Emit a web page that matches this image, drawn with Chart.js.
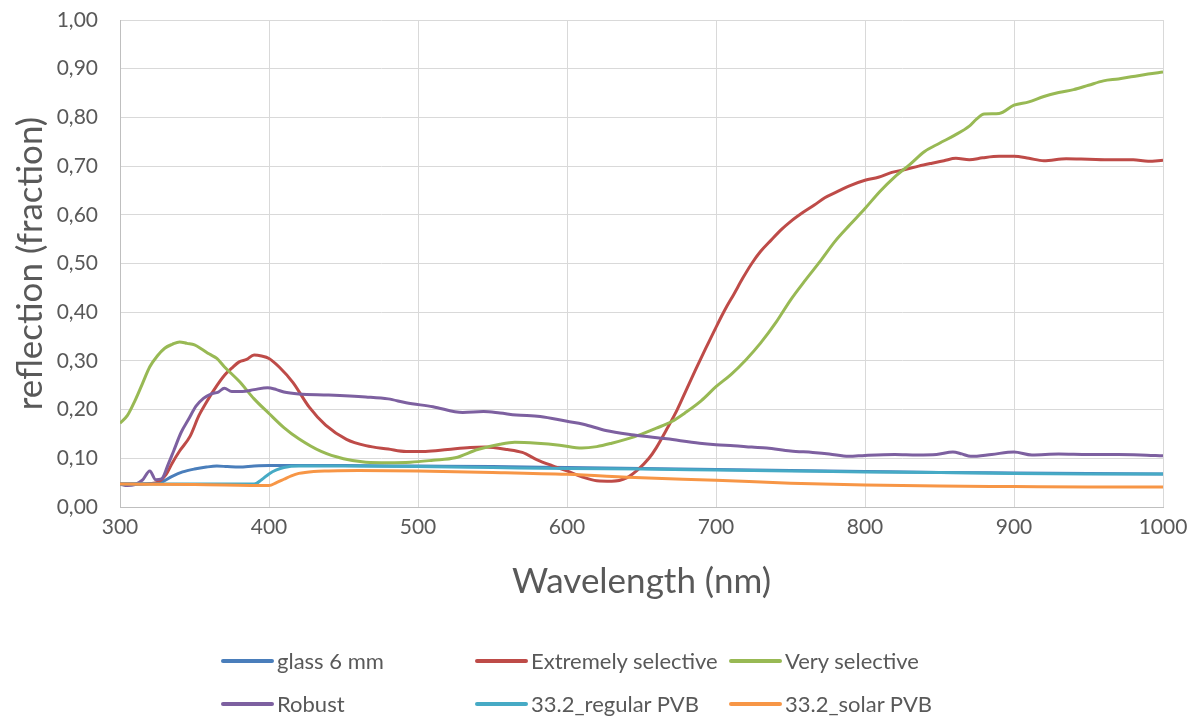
<!DOCTYPE html>
<html>
<head>
<meta charset="utf-8">
<title>reflection</title>
<script src="https://cdn.jsdelivr.net/npm/chart.js@4.4.1/dist/chart.umd.min.js"></script>
<style>
    html, body { margin: 0; padding: 0; background: #fff; }
    #wrap { position: relative; width: 1199px; height: 717px; }
    #legend { position: absolute; left: 0; top: 0; font-family: Lato, sans-serif; font-size: 22px; color: #595959; }
    .item { position: absolute; height: 26px; line-height: 26px; white-space: nowrap; }
    .item span.ln { position: absolute; left: 0; top: 11px; width: 53px; height: 4px; border-radius: 2px; }
    .item span.tx { position: absolute; left: 56px; top: 0; }
</style>
</head>
<body>
<div id="wrap">
    <canvas id="lineChart" width="1199" height="717"></canvas>
    <div id="legend"></div>
</div>
<script>
// ------------------------------------------------------- //
// Data (wavelength in nm, reflection as fraction)
// ------------------------------------------------------ //
var glassNm  = [300, 310, 320, 327, 335, 342, 350, 358, 365, 372, 380, 390, 400, 410, 420, 450, 500, 550, 600, 650, 700, 750, 800, 850, 900, 950, 1000];
var glassVal = [0.047, 0.047, 0.048, 0.050, 0.063, 0.072, 0.078, 0.082, 0.084, 0.083, 0.082, 0.084, 0.085, 0.085, 0.085, 0.085, 0.084, 0.083, 0.081, 0.079, 0.077, 0.075, 0.073, 0.071, 0.070, 0.069, 0.068];

var extremeNm  = [300, 310, 320, 326, 331, 335, 340, 347, 353, 358, 363, 370, 375, 380, 385, 390, 395, 400, 407, 416, 427, 438, 452, 465, 480, 492, 505, 520, 535, 545, 560, 570, 580, 590, 600, 610, 620, 630, 640, 648, 655, 660, 667, 674, 680, 686, 693, 700, 706, 712, 718, 724, 730, 737, 744, 750, 758, 766, 773, 781, 790, 800, 809, 818, 827, 836, 845, 853, 861, 870, 879, 890, 900, 910, 920, 935, 950, 965, 980, 990, 1000];
var extremeVal = [0.047, 0.047, 0.048, 0.052, 0.067, 0.090, 0.115, 0.145, 0.188, 0.215, 0.240, 0.270, 0.285, 0.298, 0.303, 0.312, 0.310, 0.305, 0.287, 0.256, 0.205, 0.168, 0.139, 0.126, 0.119, 0.114, 0.114, 0.118, 0.122, 0.123, 0.118, 0.112, 0.097, 0.085, 0.074, 0.062, 0.054, 0.053, 0.060, 0.078, 0.100, 0.122, 0.160, 0.200, 0.240, 0.280, 0.325, 0.369, 0.405, 0.437, 0.470, 0.500, 0.525, 0.548, 0.570, 0.586, 0.604, 0.620, 0.635, 0.647, 0.660, 0.671, 0.677, 0.687, 0.693, 0.700, 0.706, 0.711, 0.716, 0.713, 0.717, 0.720, 0.720, 0.716, 0.711, 0.715, 0.714, 0.713, 0.713, 0.710, 0.712];

var veryNm  = [300, 305, 310, 315, 320, 325, 330, 335, 340, 345, 350, 355, 360, 365, 370, 380, 390, 400, 410, 420, 435, 450, 465, 480, 495, 510, 525, 540, 555, 565, 580, 595, 610, 620, 630, 645, 660, 670, 680, 690, 700, 710, 720, 730, 740, 750, 760, 770, 780, 790, 800, 810, 820, 830, 840, 850, 860, 870, 875, 880, 890, 900, 910, 920, 930, 940, 950, 960, 970, 980, 990, 1000];
var veryVal = [0.172, 0.188, 0.218, 0.253, 0.288, 0.310, 0.326, 0.334, 0.339, 0.336, 0.333, 0.324, 0.314, 0.305, 0.288, 0.258, 0.222, 0.192, 0.163, 0.140, 0.114, 0.099, 0.092, 0.091, 0.092, 0.096, 0.101, 0.118, 0.129, 0.133, 0.131, 0.127, 0.121, 0.124, 0.131, 0.144, 0.162, 0.175, 0.195, 0.218, 0.247, 0.272, 0.302, 0.337, 0.378, 0.425, 0.466, 0.505, 0.546, 0.580, 0.613, 0.648, 0.678, 0.703, 0.730, 0.747, 0.763, 0.782, 0.797, 0.807, 0.808, 0.825, 0.832, 0.843, 0.851, 0.857, 0.866, 0.875, 0.879, 0.884, 0.889, 0.893];

var robustNm  = [300, 305, 310, 315, 320, 324, 328, 332, 336, 341, 346, 351, 356, 361, 366, 370, 375, 382, 390, 399, 405, 410, 420, 440, 465, 480, 492, 510, 530, 544, 555, 566, 582, 600, 611, 626, 645, 667, 689, 700, 712, 724, 734, 750, 765, 776, 789, 800, 820, 835, 848, 859, 865, 871, 885, 900, 912, 930, 950, 970, 985, 1000];
var robustVal = [0.047, 0.044, 0.046, 0.055, 0.074, 0.056, 0.058, 0.085, 0.115, 0.153, 0.180, 0.207, 0.223, 0.232, 0.236, 0.244, 0.237, 0.237, 0.241, 0.245, 0.241, 0.236, 0.232, 0.230, 0.226, 0.222, 0.214, 0.206, 0.194, 0.196, 0.193, 0.189, 0.186, 0.176, 0.170, 0.157, 0.148, 0.140, 0.131, 0.128, 0.126, 0.123, 0.121, 0.115, 0.112, 0.109, 0.104, 0.106, 0.108, 0.107, 0.108, 0.113, 0.109, 0.104, 0.108, 0.113, 0.107, 0.109, 0.108, 0.108, 0.107, 0.105];

var regularNm  = [300, 350, 390, 395, 400, 405, 410, 420, 430, 450, 500, 550, 600, 650, 700, 750, 800, 850, 900, 950, 1000];
var regularVal = [0.047, 0.047, 0.047, 0.056, 0.068, 0.076, 0.081, 0.084, 0.084, 0.084, 0.083, 0.081, 0.079, 0.078, 0.076, 0.074, 0.072, 0.071, 0.069, 0.068, 0.068];

var solarNm  = [300, 350, 400, 405, 410, 415, 420, 430, 440, 460, 500, 550, 600, 650, 700, 750, 800, 850, 900, 950, 1000];
var solarVal = [0.047, 0.046, 0.044, 0.050, 0.057, 0.064, 0.069, 0.073, 0.074, 0.075, 0.074, 0.071, 0.067, 0.060, 0.055, 0.049, 0.045, 0.043, 0.042, 0.041, 0.041];

var seriesNames  = ['glass 6 mm', 'Extremely selective', 'Very selective', 'Robust', '33.2_regular PVB', '33.2_solar PVB'];
var seriesColors = ['#4A7EBB', '#BE4B48', '#98B954', '#7D60A0', '#46AAC5', '#F79646'];

var xTicks = [300, 400, 500, 600, 700, 800, 900, 1000];

var textColor = '#595959';
var fontFam = 'Lato, sans-serif';

function pairs(nm, val) {
    return nm.map(function (x, i) { return {x: x, y: val[i]}; });
}

var allSeries = [
    pairs(glassNm, glassVal),
    pairs(extremeNm, extremeVal),
    pairs(veryNm, veryVal),
    pairs(robustNm, robustVal),
    pairs(regularNm, regularVal),
    pairs(solarNm, solarVal)
];

// ------------------------------------------------------- //
// Line Chart
// ------------------------------------------------------ //
var datasets = allSeries.map(function (d, i) {
    return {
        label: seriesNames[i],
        data: d,
        borderColor: seriesColors[i],
        backgroundColor: seriesColors[i],
        borderWidth: 3,
        pointRadius: 0,
        fill: false,
        cubicInterpolationMode: 'monotone',
        order: seriesNames.length - i   // later series on top, like the original
    };
});

var LINECHART = document.getElementById('lineChart');
var myLineChart = new Chart(LINECHART, {
    type: 'line',
    data: { datasets: datasets },
    options: {
        responsive: false,
        animation: false,
        layout: { padding: { left: 10, top: 20, right: 36, bottom: 110 } },
        plugins: {
            legend: { display: false },
            tooltip: { enabled: false }
        },
        scales: {
            x: {
                type: 'linear',
                min: 300,
                max: 1000,
                afterBuildTicks: function (s) { s.ticks = xTicks.map(function (v) { return {value: v}; }); },
                afterFit: function (s) { s.height = 100; },
                ticks: {
                    color: textColor,
                    font: { family: fontFam, size: 21 },
                    padding: 8,
                    callback: function (v) { return String(v); }
                },
                grid: { color: '#D9D9D9', drawTicks: false },
                border: { color: '#BFBFBF' },
                title: { display: true, text: 'Wavelength (nm)', color: textColor, font: { family: fontFam, size: 35 }, padding: 4 }
            },
            y: {
                min: 0,
                max: 1,
                afterFit: function (s) {
                    s.width = 110;
                    // tick padding would otherwise push the plot top down
                    s.paddingTop = 0;
                    s.paddingBottom = 0;
                },
                ticks: {
                    stepSize: 0.1,
                    color: textColor,
                    font: { family: fontFam, size: 21 },
                    padding: 22,
                    callback: function (v) { return v.toFixed(2).replace('.', ','); }
                },
                grid: { color: '#D9D9D9', drawTicks: false },
                border: { color: '#BFBFBF' },
                title: { display: true, text: 'reflection (fraction)', color: textColor, font: { family: fontFam, size: 35 }, padding: 0 }
            }
        }
    }
});

// legend, laid out in columns like the original
var legendCols = [221, 475, 729];
var legendRows = [648, 691];
var legend = document.getElementById('legend');
seriesNames.forEach(function (name, i) {
    var el = document.createElement('div');
    el.className = 'item';
    el.style.left = legendCols[i % 3] + 'px';
    el.style.top = legendRows[Math.floor(i / 3)] + 'px';
    el.innerHTML = '<span class="ln" style="background:' + seriesColors[i] + '"></span><span class="tx">' + name + '</span>';
    legend.appendChild(el);
});
</script>
</body>
</html>
